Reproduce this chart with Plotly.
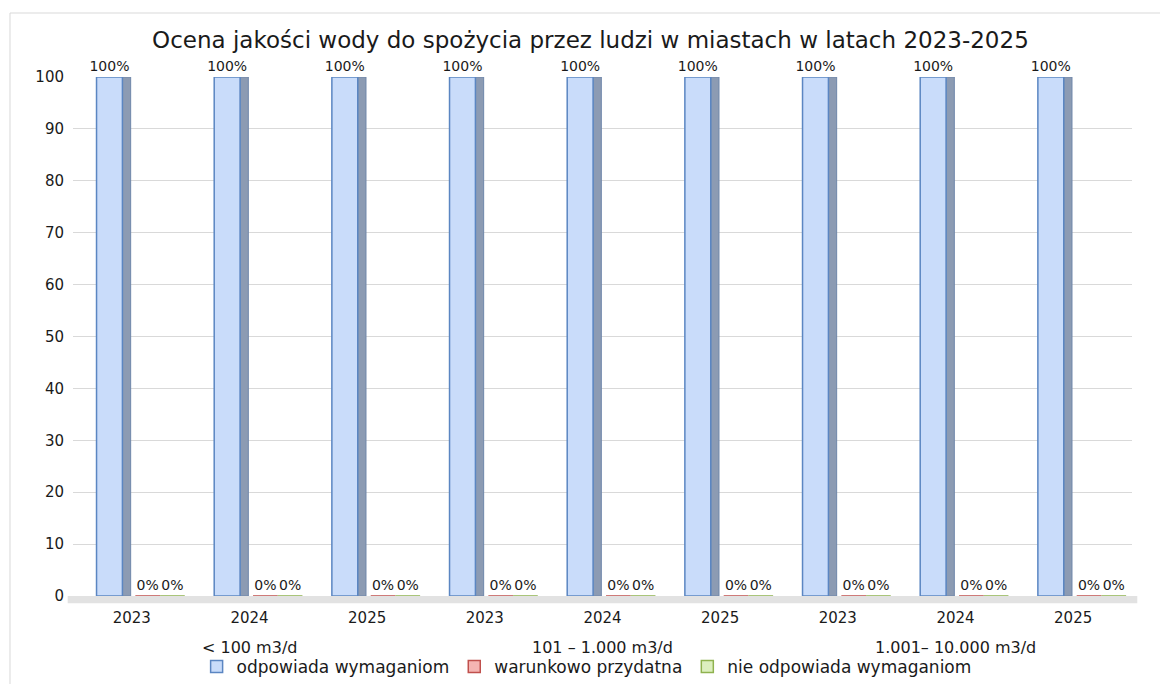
import plotly.graph_objects as go

# Data: share of samples (%) per water-supply size class and year
years = ["2023", "2024", "2025", "2023", "2024", "2025", "2023", "2024", "2025"]
groups = ["< 100 m3/d", "101 – 1.000 m3/d", "1.001– 10.000 m3/d"]
group_size = 3
odpowiada = [100, 100, 100, 100, 100, 100, 100, 100, 100]
warunkowo = [0, 0, 0, 0, 0, 0, 0, 0, 0]
nie_odpowiada = [0, 0, 0, 0, 0, 0, 0, 0, 0]
y_ticks = [0, 10, 20, 30, 40, 50, 60, 70, 80, 90, 100]

FONT = "DejaVu Sans"
x_pos = list(range(len(years)))

# name, values, fill, edge, offset within category slot, width
series = [
    ("odpowiada wymaganiom", odpowiada, "#c9dcfa", "#5b86c2", -0.30, 0.22),
    ("warunkowo przydatna", warunkowo, "#f4b4b2", "#c0504d", 0.03, 0.21),
    ("nie odpowiada wymaganiom", nie_odpowiada, "#dcefbf", "#8fb24f", 0.24, 0.21),
]

fig = go.Figure()

# Shaded side face of the main bars (depth effect), no legend entry
fig.add_trace(go.Bar(
    x=x_pos, y=odpowiada, offset=-0.08, width=0.07,
    marker=dict(color="#8c9bb3", line=dict(color="#6f86aa", width=1)),
    showlegend=False, hoverinfo="skip",
))

for name, vals, fill, edge, off, w in series:
    fig.add_trace(go.Bar(
        x=x_pos, y=vals, name=name, offset=off, width=w,
        marker=dict(color=fill, line=dict(color=edge, width=1.5)),
        texttemplate="%{y}%", textposition="outside", constraintext="none",
        textfont=dict(family=FONT, size=14, color="#1a1a1a"),
        cliponaxis=False,
    ))

# Size-class labels centred beneath each group of years
for gi, label in enumerate(groups):
    idx = x_pos[gi * group_size:(gi + 1) * group_size]
    fig.add_annotation(
        x=sum(idx) / len(idx), y=-0.1, xref="x", yref="paper",
        text=label, showarrow=False, yanchor="middle",
        font=dict(family=FONT, size=16, color="#1a1a1a"),
    )

# Floor strip beneath the bars and the outer chart frame
fig.add_shape(type="rect", xref="paper", yref="paper",
              x0=-0.005, x1=1.005, y0=-0.014, y1=0.0,
              fillcolor="#e2e2e2", line=dict(width=0), layer="below")
fig.add_shape(type="rect", xref="paper", yref="paper",
              x0=-0.0595, x1=1.2, y0=-0.4, y1=1.1233,
              fillcolor="rgba(0,0,0,0)", line=dict(color="#d9d9d9", width=1))

fig.update_layout(
    width=1160, height=684,
    paper_bgcolor="white", plot_bgcolor="white",
    margin=dict(l=73, r=28, t=77, b=88, autoexpand=False),
    barmode="overlay",
    title=dict(
        text="Ocena jakości wody do spożycia przez ludzi w miastach w latach 2023-2025",
        x=0.509, xanchor="center", y=0.942, yanchor="middle", yref="container",
        font=dict(family=FONT, size=23, color="#1a1a1a"),
    ),
    xaxis=dict(
        tickmode="array", tickvals=x_pos, ticktext=years,
        range=[-0.5, len(years) - 0.5],
        showgrid=False, zeroline=False, showline=False, ticks="",
        tickfont=dict(family=FONT, size=15, color="#1a1a1a"),
        ticklabelstandoff=11,
    ),
    yaxis=dict(
        range=[0, 100], tickmode="array", tickvals=y_ticks,
        showgrid=True, gridcolor="#d9d9d9", gridwidth=1,
        zeroline=False, showline=False, ticks="",
        tickfont=dict(family=FONT, size=15, color="#1a1a1a"),
        ticklabelstandoff=8,
    ),
    legend=dict(
        orientation="h", x=0.485, xanchor="center",
        y=0.025, yanchor="middle", yref="container",
        font=dict(family=FONT, size=17, color="#1a1a1a"),
        bgcolor="rgba(0,0,0,0)",
    ),
    showlegend=True,
)

fig.write_html("out.html")
